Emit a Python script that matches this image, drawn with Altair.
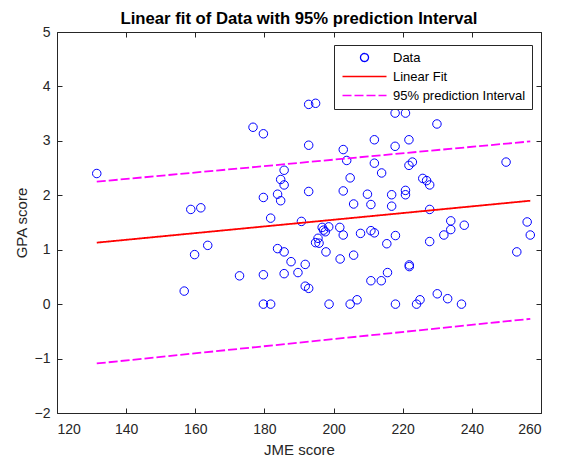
import altair as alt
import pandas as pd

# ---- data ----
jme = [131.5, 176.7, 179.7, 185.7, 184.7, 185.7, 183.8, 179.7, 184.7, 158.7,
       161.6, 181.8, 190.7, 163.6, 159.8, 183.8, 185.7, 187.7, 172.8, 179.7,
       185.7, 189.7, 156.8, 179.7, 181.8, 192.8, 194.8, 192.8, 202.8, 211.8,
       203.8, 211.8, 213.9, 204.8, 192.8, 202.8, 209.8, 205.8, 210.8, 196.7,
       198.6, 201.8, 197.6, 197.1, 202.8, 207.8, 210.8, 211.8, 195.5, 194.8,
       195.8, 215.4, 197.8, 205.8, 201.9, 191.8, 215.6, 210.8, 213.8, 191.8,
       192.8, 198.7, 204.8, 206.8, 217.8, 220.8, 229.9, 217.8, 221.8, 249.9,
       221.8, 222.8, 225.8, 226.9, 227.8, 216.8, 220.8, 220.8, 255.9, 216.8,
       227.8, 233.9, 237.8, 233.9, 231.9, 256.0, 256.9, 217.9, 227.8, 253.0,
       221.9, 221.9, 217.9, 224.0, 225.0, 230.0, 233.0, 237.0]
gpa = [2.40, 3.25, 3.13, 2.46, 2.29, 2.19, 2.02, 1.96, 1.90, 1.74,
       1.77, 1.58, 1.52, 1.08, 0.91, 1.02, 0.96, 0.78, 0.52, 0.54,
       0.56, 0.58, 0.24, 0.00, 0.00, 3.67, 3.69, 2.92, 2.84, 3.02,
       2.64, 2.59, 2.41, 2.32, 2.07, 2.08, 2.02, 1.84, 1.83, 1.41,
       1.42, 1.41, 1.33, 1.36, 1.27, 1.30, 1.35, 1.31, 1.21, 1.13,
       1.12, 1.11, 0.96, 0.90, 0.83, 0.73, 0.58, 0.43, 0.43, 0.33,
       0.29, 0.00, 0.00, 0.08, 3.51, 3.51, 3.31, 2.90, 3.02, 2.61,
       2.55, 2.61, 2.31, 2.27, 2.19, 2.01, 2.09, 2.01, 4.09, 1.80,
       1.74, 1.53, 1.45, 1.37, 1.27, 1.51, 1.27, 1.26, 1.15, 0.96,
       0.72, 0.69, 0.00, 0.00, 0.08, 0.19, 0.10, 0.00]

fit_x = [131.5, 256.9]
fit_y = [1.13, 1.90]
pi_upper = [2.25, 2.99]
pi_lower = [-1.09, -0.27]

x_ticks = [120, 140, 160, 180, 200, 220, 240, 260]
y_ticks = [-2, -1, 0, 1, 2, 3, 4, 5]

series = ["Data", "Linear Fit", "95% prediction Interval"]
colors = ["#0000FF", "#FF0000", "#FF00FF"]

pts = pd.DataFrame({"JME": jme, "GPA": gpa, "series": "Data"})
fit = pd.DataFrame({"JME": fit_x, "GPA": fit_y, "series": "Linear Fit"})
pi = pd.DataFrame({
    "JME": fit_x + fit_x,
    "GPA": pi_upper + pi_lower,
    "bound": ["upper", "upper", "lower", "lower"],
    "series": "95% prediction Interval",
})

FONT = "Liberation Sans"
AX = "#262626"
W, H = 484, 381

xs = alt.Scale(domain=[120, 260], nice=False, zero=False)
ys = alt.Scale(domain=[-2, 5], nice=False, zero=False)

leg = alt.Legend(title=None, orient="none", legendX=277, legendY=13,
                 padding=6, strokeColor=AX, fillColor="white", cornerRadius=0,
                 labelFont=FONT, labelFontSize=13, labelColor="#000000",
                 symbolSize=64, symbolStrokeWidth=1.3, symbolOffset=18,
                 labelOffset=22, rowPadding=5, labelLimit=300,
                 symbolFillColor="transparent")

color = alt.Color("series:N", scale=alt.Scale(domain=series, range=colors), legend=leg)
shape = alt.Shape("series:N", scale=alt.Scale(domain=series,
                  range=["circle", "M-5.5,0H5.5", "M-5.5,0H5.5"]), legend=leg)
dash = alt.StrokeDash("series:N", scale=alt.Scale(domain=series,
                      range=[[1, 0], [1, 0], [9, 3]]), legend=leg)

tick_kw = dict(labels=False, domain=False, grid=False, ticks=True, tickSize=5,
               tickColor=AX, tickWidth=1, title=None)

points = alt.Chart(pts).mark_point(filled=False, size=72, strokeWidth=1, opacity=1).encode(
    x=alt.X("JME:Q", scale=xs, axis=alt.Axis(
        orient="bottom", values=x_ticks, ticks=False, domain=False, grid=False,
        title="JME score", labelFont=FONT, labelFontSize=14, labelColor=AX,
        labelPadding=9, titleFont=FONT, titleFontSize=15, titleFontWeight="normal",
        titleColor=AX, titlePadding=6)),
    y=alt.Y("GPA:Q", scale=ys, axis=alt.Axis(
        orient="left", values=y_ticks, ticks=False, domain=False, grid=False,
        title="GPA score", labelFont=FONT, labelFontSize=14, labelColor=AX,
        labelPadding=7, titleFont=FONT, titleFontSize=15, titleFontWeight="normal",
        titleColor=AX, titlePadding=5)),
    color=color,
    shape=shape,
)

fit_line = alt.Chart(fit).mark_line(strokeWidth=1.8).encode(
    x=alt.X("JME:Q", scale=xs, axis=alt.Axis(orient="top", offset=-H, values=x_ticks, **tick_kw)),
    y=alt.Y("GPA:Q", scale=ys, axis=alt.Axis(orient="right", offset=-W, values=y_ticks, **tick_kw)),
    color=color,
    strokeDash=dash,
)

pi_lines = alt.Chart(pi).mark_line(strokeWidth=1.8).encode(
    x=alt.X("JME:Q", scale=xs, axis=alt.Axis(orient="bottom", offset=-H, values=x_ticks, **tick_kw)),
    y=alt.Y("GPA:Q", scale=ys, axis=alt.Axis(orient="left", offset=-W, values=y_ticks, **tick_kw)),
    color=color,
    strokeDash=dash,
    detail="bound:N",
)

chart = alt.layer(points, fit_line, pi_lines).resolve_axis(
    x="independent", y="independent"
).properties(
    width=W, height=H,
    title=alt.Title("Linear fit of Data with 95% prediction Interval",
                    font=FONT, fontSize=16.7, fontWeight="bold", color="#000000",
                    anchor="middle", offset=-3),
    padding={"left": 49, "top": 24, "right": 13, "bottom": 43},
    autosize=alt.AutoSizeParams(type="none"),
).configure_view(stroke=AX, strokeWidth=1)

chart.save("out.html", embed_options={"renderer": "svg", "actions": False})
